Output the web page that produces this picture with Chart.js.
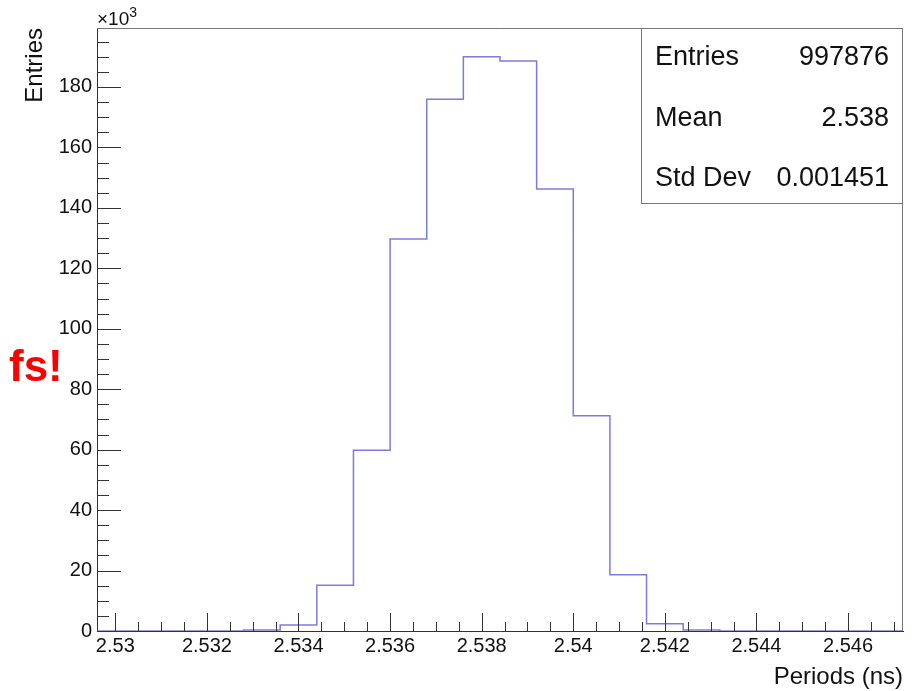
<!DOCTYPE html>
<html><head><meta charset="utf-8">
<script src="https://cdn.jsdelivr.net/npm/chart.js@4.4.1/dist/chart.umd.min.js"></script>
<style>html,body{margin:0;padding:0;background:#fff;}#wrap{width:920px;height:691px;}</style>
</head><body><div id="wrap"><canvas id="c" width="920" height="691"></canvas></div>
<script>
// Histogram bin edges (ns) and bin contents (x10^3 entries)
const binEdges = [2.5296, 2.5304, 2.5312, 2.5320, 2.5328, 2.5336, 2.5344, 2.5352, 2.5360, 2.5368, 2.5376, 2.5384,
                  2.5392, 2.5400, 2.5408, 2.5416, 2.5424, 2.5432, 2.5440, 2.5448, 2.5456, 2.5464, 2.5472];
const binCounts = [0, 0, 0, 0, 0.3, 2.0, 15.1, 59.8, 129.7, 175.9, 190.0, 188.6,
                   146.2, 71.2, 18.6, 2.4, 0.3, 0, 0, 0, 0, 0];
const xTickValues = [2.530, 2.532, 2.534, 2.536, 2.538, 2.540, 2.542, 2.544, 2.546];
const xTickLabels = ['2.53', '2.532', '2.534', '2.536', '2.538', '2.54', '2.542', '2.544', '2.546'];
const yTickValues = [0, 20, 40, 60, 80, 100, 120, 140, 160, 180];
const yTickLabels = ['0', '20', '40', '60', '80', '100', '120', '140', '160', '180'];
const statLabels = ['Entries', 'Mean', 'Std Dev'];
const statValues = ['997876', '2.538', '0.001451'];
const xRange = [2.5296, 2.5472];
const yRange = [0, 199.5];

// point i = (left edge of bin i, content of bin i); last edge closes the final bin
const points = binEdges.map((e, i) => ({x: e, y: i < binCounts.length ? binCounts[i] : binCounts[binCounts.length - 1]}));

const FONT = '"Liberation Sans", Arial, Helvetica, sans-serif';

const decor = {
  id: 'decor',
  afterDraw(chart) {
    const ctx = chart.ctx, ca = chart.chartArea;
    const xs = chart.scales.x, ys = chart.scales.y;
    ctx.save();
    // frame top/right
    ctx.strokeStyle = '#777'; ctx.lineWidth = 1;
    ctx.beginPath();
    ctx.moveTo(ca.left, ca.top + 0.5); ctx.lineTo(ca.right - 0.5, ca.top + 0.5); ctx.lineTo(ca.right - 0.5, ca.bottom);
    ctx.stroke();
    // ticks
    ctx.strokeStyle = '#333';
    ctx.beginPath();
    for (let k = 0; ; k++) {
      const v = 2.530 + k * 0.0005;
      if (v > xRange[1]) break;
      const px = Math.round(xs.getPixelForValue(v)) + 0.5;
      const len = (k % 4 === 0) ? 18 : 9;
      ctx.moveTo(px, ca.bottom); ctx.lineTo(px, ca.bottom - len);
    }
    for (let k = 0; ; k++) {
      const v = k * 5;
      if (v > yRange[1]) break;
      const py = Math.round(ys.getPixelForValue(v)) + 0.5;
      const len = (k % 4 === 0) ? 24 : 12;
      ctx.moveTo(ca.left, py); ctx.lineTo(ca.left + len, py);
    }
    ctx.stroke();
    // stats box
    const bx = ca.right - 262, by = ca.top, bw = 262, bh = 175;
    ctx.fillStyle = '#fff';
    ctx.fillRect(bx, by, bw, bh);
    ctx.strokeStyle = '#777';
    ctx.strokeRect(bx + 0.5, by + 0.5, bw - 1, bh);
    ctx.fillStyle = '#111';
    ctx.font = '27px ' + FONT;
    ctx.textBaseline = 'middle';
    const rows = [30, 91, 151];
    statLabels.forEach((l, i) => {
      ctx.textAlign = 'left';
      ctx.fillText(l, bx + 14, by + rows[i]);
      ctx.textAlign = 'right';
      ctx.fillText(statValues[i], ca.right - 14, by + rows[i]);
    });
    // x10^3
    ctx.textAlign = 'left'; ctx.textBaseline = 'alphabetic';
    ctx.font = '19px ' + FONT;
    ctx.fillText('\u00d710', ca.left, 25);
    const w = ctx.measureText('\u00d710').width;
    ctx.font = '14px ' + FONT;
    ctx.fillText('3', ca.left + w, 17);
    // fs!
    ctx.fillStyle = '#ff0000';
    ctx.font = 'bold 44px "Liberation Sans Narrow", ' + FONT;
    ctx.fillText('fs!', 9, 381);
    ctx.restore();
  }
};

new Chart(document.getElementById('c'), {
  type: 'line',
  data: {
    datasets: [{
      data: points,
      stepped: 'before',
      borderColor: 'rgba(90,90,215,0.8)',
      borderWidth: 1.5,
      pointRadius: 0,
      fill: false
    }]
  },
  options: {
    responsive: false,
    animation: false,
    devicePixelRatio: 1,
    layout: {padding: {top: 28, right: 17, left: 0, bottom: 0}},
    plugins: {legend: {display: false}, tooltip: {enabled: false}},
    scales: {
      x: {
        type: 'linear', min: xRange[0], max: xRange[1],
        grid: {display: false, drawTicks: false},
        border: {display: true, color: '#333', width: 1},
        afterBuildTicks: (s) => { s.ticks = xTickValues.map(v => ({value: v})); },
        afterFit: (s) => { s.height = 60; },
        ticks: {
          autoSkip: false, maxRotation: 0, padding: 3,
          color: '#111', font: {family: FONT, size: 20},
          callback: (v, i) => xTickLabels[i]
        },
        title: {display: true, text: 'Periods (ns)', align: 'end', color: '#111',
                font: {family: FONT, size: 24, lineHeight: 1}, padding: {top: 0, bottom: 2}}
      },
      y: {
        min: yRange[0], max: yRange[1],
        grid: {display: false, drawTicks: false},
        border: {display: true, color: '#333', width: 1},
        afterBuildTicks: (s) => { s.ticks = yTickValues.map(v => ({value: v})); },
        afterFit: (s) => { s.width = 97; },
        ticks: {
          autoSkip: false, padding: 5,
          color: '#111', font: {family: FONT, size: 20},
          callback: (v, i) => yTickLabels[i]
        },
        title: {display: true, text: 'Entries', align: 'end', color: '#111',
                font: {family: FONT, size: 24, lineHeight: 1}, padding: {top: 23, bottom: 0}}
      }
    }
  },
  plugins: [decor]
});
</script></body></html>
